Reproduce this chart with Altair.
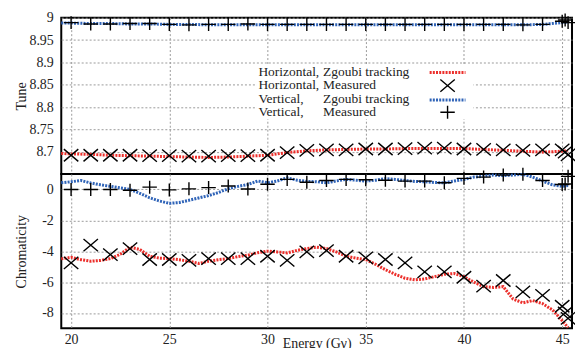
import altair as alt
import pandas as pd

FONT = "Liberation Serif, Times New Roman, DejaVu Serif, serif"
RED = "#ec2f2b"
BLUE = "#3064b8"

# ---------------- data ----------------
# Measured points (Energy in G-gamma)
meas_E = [20, 21, 22, 23, 24, 25, 26, 27, 28, 29, 30, 31, 32, 33, 34, 35, 36, 37, 38,
          39, 40, 41, 42, 43, 44, 45, 45.15, 45.3]
tune_h_meas = [8.692, 8.692, 8.692, 8.692, 8.691, 8.691, 8.690, 8.690, 8.691, 8.691,
               8.692, 8.698, 8.703, 8.704, 8.704, 8.706, 8.706, 8.707, 8.708, 8.708,
               8.706, 8.705, 8.704, 8.703, 8.704, 8.704, 8.699, 8.693]
tune_v_meas = [8.989, 8.986, 8.986, 8.987, 8.987, 8.985, 8.984, 8.985, 8.985, 8.986,
               8.985, 8.985, 8.985, 8.985, 8.985, 8.985, 8.985, 8.985, 8.985, 8.985,
               8.985, 8.985, 8.985, 8.984, 8.985, 8.992, 8.995, 8.989]
chrom_h_meas = [-4.76, -3.61, -4.22, -3.83, -4.54, -4.54, -4.60, -4.48, -4.48, -4.48,
                -4.33, -4.60, -4.04, -3.96, -4.33, -4.43, -4.54, -4.76, -5.34, -5.34,
                -5.69, -6.27, -5.90, -6.64, -6.86, -7.57, -8.00, -8.35]
chrom_v_meas = [0.0, 0.0, 0.0, -0.05, 0.15, -0.03, 0.04, 0.12, 0.22, 0.03,
                0.34, 0.65, 0.47, 0.58, 0.65, 0.63, 0.60, 0.54, 0.54, 0.43,
                0.72, 0.80, 0.93, 0.98, 0.58, 0.32, 0.35, 0.85]

# Zgoubi tracking, tune
tune_sim_E = [19.5, 20, 21, 22, 23, 24, 25, 26, 27, 28, 29, 30, 31, 32, 33, 34, 35, 36,
              37, 38, 39, 40, 41, 42, 43, 44, 45, 45.3]
tune_h_sim = [8.696, 8.695, 8.694, 8.692, 8.691, 8.690, 8.689, 8.688, 8.687, 8.688,
              8.690, 8.692, 8.698, 8.702, 8.704, 8.705, 8.706, 8.706, 8.707, 8.707,
              8.707, 8.707, 8.705, 8.703, 8.701, 8.699, 8.701, 8.702]
tune_v_sim = [8.988, 8.988, 8.987, 8.987, 8.986, 8.986, 8.985, 8.985, 8.984, 8.984,
              8.984, 8.984, 8.984, 8.984, 8.984, 8.984, 8.984, 8.984, 8.984, 8.984,
              8.984, 8.984, 8.984, 8.984, 8.984, 8.985, 8.989, 8.990]

# Zgoubi tracking, chromaticity
chrom_sim_E = [19.5, 20, 20.5, 21, 21.5, 22, 22.5, 23, 23.5, 24, 24.5, 25, 25.5, 26,
               26.5, 27, 27.5, 28, 28.5, 29, 29.5, 30, 30.5, 31, 31.5, 32, 32.5, 33,
               33.5, 34, 34.5, 35, 35.5, 36, 36.5, 37, 37.5, 38, 38.5, 39, 39.5, 40,
               40.5, 41, 41.5, 42, 42.5, 43, 43.5, 44, 44.5, 45, 45.3]
chrom_h_sim = [-4.50, -4.40, -4.55, -4.65, -4.60, -4.48, -4.20, -3.74, -3.89, -4.33,
               -4.45, -4.48, -4.55, -4.65, -4.80, -4.65, -4.55, -4.48, -4.35, -4.26,
               -4.10, -4.00, -4.05, -4.11, -3.95, -3.83, -3.74, -3.83, -4.05, -4.33,
               -4.45, -4.54, -4.85, -5.20, -5.50, -5.75, -5.86, -5.80, -5.65, -5.50,
               -5.45, -5.65, -6.00, -6.30, -6.35, -6.30, -7.10, -7.35, -7.20, -7.40,
               -7.80, -8.50, -8.95]
chrom_v_sim = [0.43, 0.50, 0.58, 0.42, 0.30, 0.20, 0.10, 0.00, -0.25, -0.54,
               -0.75, -0.90, -0.85, -0.70, -0.55, -0.40, -0.20, 0.05, 0.20, 0.32,
               0.55, 0.43, 0.55, 0.75, 0.60, 0.52, 0.50, 0.43, 0.55, 0.65,
               0.60, 0.54, 0.60, 0.70, 0.65, 0.58, 0.52, 0.50, 0.45, 0.43,
               0.55, 0.65, 0.80, 0.85, 0.93, 0.90, 0.93, 0.98, 0.80, 0.55,
               0.30, 0.20, 0.25]

x_ticks = [20, 25, 30, 35, 40, 45]
tune_ticks = [8.7, 8.75, 8.8, 8.85, 8.9, 8.95, 9]
chrom_ticks = [-8, -6, -4, -2, 0]

legend_col1 = ["Horizontal,", "Horizontal,", "Vertical,", "Vertical,"]
legend_col2 = ["Zgoubi tracking", "Measured", "Zgoubi tracking", "Measured"]

# ---------------- layout ----------------
W = 513
H_TOP = 157
H_BOT = 155

X_PATH = "M-1,-0.85L1,0.85M-1,0.85L1,-0.85"
PLUS_PATH = "M-1,0L1,0M0,-0.9L0,0.9"

x_scale = alt.Scale(domain=[19.5, 45.5], nice=False, zero=False)


def df(E, v):
    return pd.DataFrame({"E": E, "val": v})


def layers(panel_y, x_axis, sims, meas):
    out = []
    for E, v, col in sims:
        out.append(
            alt.Chart(df(E, v)).mark_line(color=col, strokeWidth=3, strokeDash=[2, 1.2])
            .encode(x=alt.X("E:Q", scale=x_scale, axis=x_axis), y=panel_y)
        )
    for E, v, path in meas:
        out.append(
            alt.Chart(df(E, v)).mark_point(shape=path, filled=False, stroke="black",
                                           strokeWidth=1.4, size=210, opacity=1)
            .encode(x=alt.X("E:Q", scale=x_scale, axis=x_axis), y=panel_y)
        )
    return out


top_x_axis = alt.Axis(values=x_ticks, labels=False, ticks=False, domain=False,
                      title=None, grid=True)
bot_x_axis = alt.Axis(values=x_ticks, title="Energy (Gγ)", grid=True, labelPadding=4,
                      labelExpr="'' + datum.value", titleY=15, titleBaseline="middle")

top_y = alt.Y("val:Q", scale=alt.Scale(domain=[8.65, 9.0], nice=False, zero=False),
              axis=alt.Axis(values=tune_ticks, title="Tune", labelExpr="'' + datum.value",
                            titleX=-39.5, titleY=H_TOP / 2, titleBaseline="middle",
                            labelOverlap=False))
bot_y = alt.Y("val:Q", scale=alt.Scale(domain=[-9, 1], nice=False, zero=False),
              axis=alt.Axis(values=chrom_ticks, title="Chromaticity",
                            labelExpr="'' + datum.value", titleX=-39.5,
                            titleY=H_BOT / 2, titleBaseline="middle",
                            labelOverlap=False))

top_layers = layers(
    top_y, top_x_axis,
    [(tune_sim_E, tune_h_sim, RED), (tune_sim_E, tune_v_sim, BLUE)],
    [(meas_E, tune_h_meas, X_PATH), (meas_E, tune_v_meas, PLUS_PATH)],
)

one = pd.DataFrame({"a": [0]})
# legend box
top_layers.append(
    alt.Chart(one).mark_rect(color="white").encode(
        x=alt.value(196), x2=alt.value(414), y=alt.value(48), y2=alt.value(102))
)
rows_y = [54.5, 68, 81.5, 95]
for t1, t2, yy in zip(legend_col1, legend_col2, rows_y):
    top_layers.append(alt.Chart(one).mark_text(
        text=t1, align="left", baseline="middle", font=FONT, fontSize=13.5, color="#222"
    ).encode(x=alt.value(198), y=alt.value(yy)))
    top_layers.append(alt.Chart(one).mark_text(
        text=t2, align="left", baseline="middle", font=FONT, fontSize=13.5, color="#222"
    ).encode(x=alt.value(263), y=alt.value(yy)))
top_layers.append(alt.Chart(one).mark_rule(color=RED, strokeWidth=3, strokeDash=[2, 1.2])
                  .encode(x=alt.value(370), x2=alt.value(406), y=alt.value(55)))
top_layers.append(alt.Chart(one).mark_point(shape=X_PATH, filled=False, stroke="black",
                                            strokeWidth=1.4, size=210, opacity=1)
                  .encode(x=alt.value(388), y=alt.value(68.3)))
top_layers.append(alt.Chart(one).mark_rule(color=BLUE, strokeWidth=3, strokeDash=[2, 1.2])
                  .encode(x=alt.value(370), x2=alt.value(406), y=alt.value(82.7)))
top_layers.append(alt.Chart(one).mark_point(shape=PLUS_PATH, filled=False, stroke="black",
                                            strokeWidth=1.4, size=210, opacity=1)
                  .encode(x=alt.value(388), y=alt.value(95)))

top = alt.layer(*top_layers).properties(width=W, height=H_TOP)

bot_layers = layers(
    bot_y, bot_x_axis,
    [(chrom_sim_E, chrom_h_sim, RED), (chrom_sim_E, chrom_v_sim, BLUE)],
    [(meas_E, chrom_h_meas, X_PATH), (meas_E, chrom_v_meas, PLUS_PATH)],
)
bot = alt.layer(*bot_layers).properties(width=W, height=H_BOT)

chart = (
    alt.vconcat(top, bot, spacing=0, bounds="flush")
    .properties(padding={"left": 5.5, "top": 0, "right": -5, "bottom": -4},
                background="white")
    .configure_view(stroke="black", strokeWidth=2)
    .configure_axis(labelFont=FONT, labelFontSize=14, labelColor="#222",
                    titleFont=FONT, titleFontSize=14, titleFontWeight="normal",
                    titleColor="#222", gridColor="#9a9a9a", gridDash=[2, 2],
                    gridWidth=1, domain=False, ticks=False, labelPadding=8)
)

chart.save("out.html", embed_options={"renderer": "svg", "actions": False})
